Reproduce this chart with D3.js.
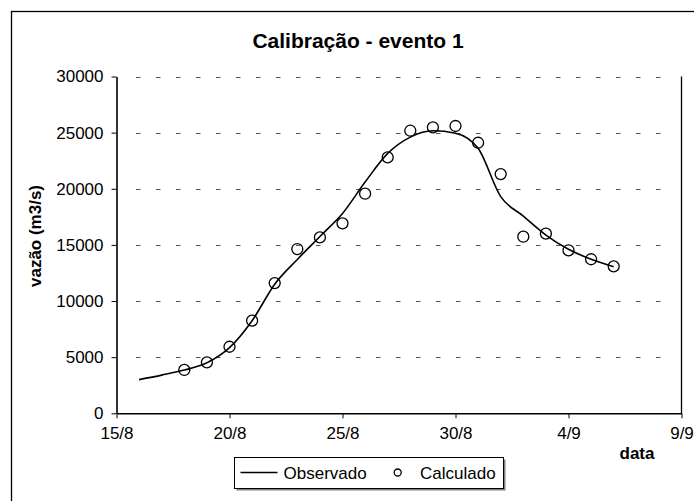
<!DOCTYPE html>
<html>
<head>
<meta charset="utf-8">
<script src="https://cdn.jsdelivr.net/npm/d3@7"></script>
<style>
  html, body { margin: 0; padding: 0; background: #fff; }
  svg { display: block; }
  text { font-family: "Liberation Sans", Arial, sans-serif; fill: #000; }
</style>
</head>
<body>
<svg id="chart" width="694" height="501"></svg>
<script>
// ---- data ----
const titleText = "Calibração - evento 1";
const yAxisTitle = "vazão (m3/s)";
const xAxisTitle = "data";
const seriesNames = ["Observado", "Calculado"];

const xTickLabels = ["15/8", "20/8", "25/8", "30/8", "4/9", "9/9"];
const yTickValues = [0, 5000, 10000, 15000, 20000, 25000, 30000];

const observedDates = ["16/8","17/8","18/8","19/8","20/8","21/8","22/8","23/8","24/8","25/8","26/8",
                       "27/8","28/8","29/8","30/8","31/8","1/9","2/9","3/9","4/9","5/9","6/9"];
const observedValues = [3000,3400,3850,4500,5850,8250,11500,13700,15750,17800,20600,
                        23150,24600,25170,24950,23600,19300,17570,15880,14610,13720,13060];

const calculatedDates = ["18/8","19/8","20/8","21/8","22/8","23/8","24/8","25/8","26/8","27/8",
                         "28/8","29/8","30/8","31/8","1/9","2/9","3/9","4/9","5/9","6/9"];
const calculatedValues = [3860,4540,5930,8250,11600,14630,15670,16920,19560,22800,
                          25170,25470,25590,24100,21310,15730,16000,14520,13720,13090];

// ---- helpers ----
const YEAR = 2000;
function parseDM(s) {
  const [d, m] = s.split("/").map(Number);
  return new Date(Date.UTC(YEAR, m - 1, d));
}

const svg = d3.select("#chart");

// outer frame
svg.append("rect")
  .attr("x", 11.5).attr("y", 11.5)
  .attr("width", 720).attr("height", 520)
  .attr("fill", "none").attr("stroke", "#000").attr("stroke-width", 1.3);

const plot = { left: 116.5, right: 681.5, top: 76.5, bottom: 413.3 };

const x = d3.scaleUtc()
  .domain([parseDM(xTickLabels[0]), parseDM(xTickLabels[xTickLabels.length - 1])])
  .range([plot.left, plot.right]);
const y = d3.scaleLinear()
  .domain([0, 30000])
  .range([plot.bottom, plot.top]);

// gridlines
svg.append("g")
  .selectAll("line")
  .data(yTickValues.filter(v => v > 0))
  .join("line")
  .attr("x1", plot.left + 19.5)
  .attr("x2", plot.right - 8)
  .attr("y1", d => Math.round(y(d)) + 0.5)
  .attr("y2", d => Math.round(y(d)) + 0.5)
  .attr("stroke", "#555")
  .attr("stroke-width", 1)
  .attr("stroke-dasharray", "4.5,15.5");

// right border of plot area
svg.append("line")
  .attr("x1", plot.right).attr("x2", plot.right)
  .attr("y1", plot.top).attr("y2", plot.bottom)
  .attr("stroke", "#000").attr("stroke-width", 1.3);

// axes
const xAxis = d3.axisBottom(x)
  .tickValues(xTickLabels.map(parseDM))
  .tickFormat((d, i) => xTickLabels[i])
  .tickSize(5)
  .tickPadding(9)
  .tickSizeOuter(0);
const gx = svg.append("g")
  .attr("transform", `translate(0,${plot.bottom})`)
  .call(xAxis);
gx.select(".domain").attr("stroke", "#000").attr("stroke-width", 1.6);
gx.selectAll(".tick line").attr("stroke", "#000").attr("stroke-width", 1);
gx.selectAll(".tick text")
  .attr("font-family", "Liberation Sans, Arial, sans-serif")
  .attr("font-size", 17);

const yAxis = d3.axisLeft(y)
  .tickValues(yTickValues)
  .tickFormat(d => String(d))
  .tickSize(5)
  .tickPadding(8)
  .tickSizeOuter(0);
const gy = svg.append("g")
  .attr("transform", `translate(${plot.left},0)`)
  .call(yAxis);
gy.select(".domain").attr("stroke", "#000").attr("stroke-width", 1.6);
gy.selectAll(".tick line").attr("stroke", "#000").attr("stroke-width", 1);
gy.selectAll(".tick text")
  .attr("font-family", "Liberation Sans, Arial, sans-serif")
  .attr("font-size", 17);

// observed line
const line = d3.line()
  .x((d, i) => x(parseDM(observedDates[i])))
  .y(d => y(d))
  .curve(d3.curveMonotoneX);
svg.append("path")
  .datum(observedValues)
  .attr("d", line)
  .attr("fill", "none")
  .attr("stroke", "#000")
  .attr("stroke-width", 1.6)
  .attr("stroke-linejoin", "round");

// calculated points
svg.append("g")
  .selectAll("circle")
  .data(calculatedValues)
  .join("circle")
  .attr("cx", (d, i) => x(parseDM(calculatedDates[i])))
  .attr("cy", d => y(d))
  .attr("r", 5.5)
  .attr("fill", "none")
  .attr("stroke", "#000")
  .attr("stroke-width", 1.3);

// title
svg.append("text")
  .attr("x", 358).attr("y", 47.5)
  .attr("text-anchor", "middle")
  .attr("font-size", 21).attr("font-weight", "bold")
  .text(titleText);

// y axis title
svg.append("text")
  .attr("transform", "translate(41,236) rotate(-90)")
  .attr("text-anchor", "middle")
  .attr("font-size", 17).attr("font-weight", "bold")
  .text(yAxisTitle);

// x axis title
svg.append("text")
  .attr("x", 637).attr("y", 458.5)
  .attr("text-anchor", "middle")
  .attr("font-size", 17).attr("font-weight", "bold")
  .text(xAxisTitle);

// legend
const lg = svg.append("g");
lg.append("rect")
  .attr("x", 236.5).attr("y", 459.5).attr("width", 269).attr("height", 31)
  .attr("fill", "#808080");
lg.append("rect")
  .attr("x", 234.5).attr("y", 457.5).attr("width", 269).attr("height", 31)
  .attr("fill", "#fff").attr("stroke", "#000").attr("stroke-width", 1);
lg.append("line")
  .attr("x1", 240.5).attr("x2", 277.5).attr("y1", 472.5).attr("y2", 472.5)
  .attr("stroke", "#000").attr("stroke-width", 1.6);
lg.append("text")
  .attr("x", 283.5).attr("y", 478.5)
  .attr("font-size", 17)
  .text(seriesNames[0]);
lg.append("circle")
  .attr("cx", 397.7).attr("cy", 472.5).attr("r", 3.5)
  .attr("fill", "none").attr("stroke", "#000").attr("stroke-width", 1.3);
lg.append("text")
  .attr("x", 420).attr("y", 478.5)
  .attr("font-size", 17)
  .text(seriesNames[1]);
</script>
</body>
</html>
